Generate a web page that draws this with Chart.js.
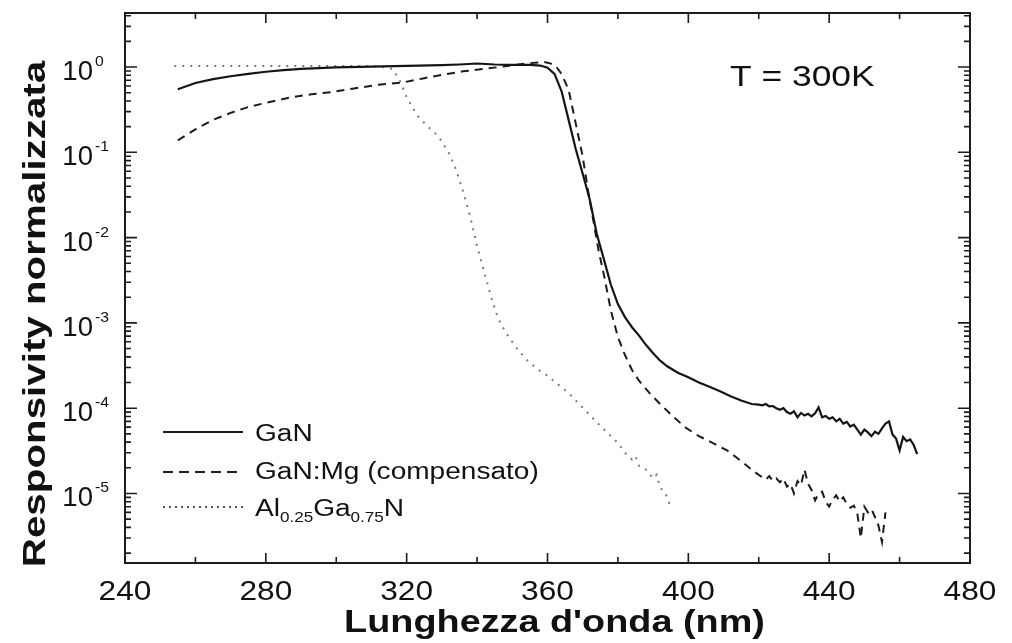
<!DOCTYPE html>
<html>
<head>
<meta charset="utf-8">
<script src="https://cdn.jsdelivr.net/npm/chart.js@4/dist/chart.umd.min.js"></script>
<style>
  html, body { margin: 0; padding: 0; background: #fff; }
  #wrap { width: 1012px; height: 643px; position: relative; }
</style>
</head>
<body>
<div id="wrap"><canvas id="responsivity-chart"></canvas></div>
<script>
// GaN (solid)
const ganWl = [255, 260, 265, 270, 275, 280, 285, 290, 295, 300, 310, 320, 330, 335, 340, 345, 350, 355, 358, 360,
    362, 364, 366, 368, 370, 372, 374, 376, 378, 380, 382, 384, 386, 388, 390, 392, 394, 397, 400, 403,
    406, 409, 412, 415, 418, 420, 421, 422, 423, 424, 425, 426, 427, 428, 429, 430, 431, 432, 433, 434,
    435, 436, 437, 438, 439, 440, 441, 442, 443, 444, 445, 446, 447, 448, 449, 450, 451, 452, 453, 454,
    455, 456, 457, 458, 459, 460, 461, 462, 463, 464, 465];
const ganVal = [0.55, 0.65, 0.72, 0.78, 0.83, 0.88, 0.92, 0.95, 0.97, 0.99, 1.01, 1.03, 1.05, 1.07, 1.10, 1.07, 1.06, 1.06, 1.04, 0.98,
    0.83, 0.52, 0.24, 0.11, 0.056, 0.028, 0.011, 0.0056, 0.0028, 1.66e-3, 1.17e-3, 8.9e-4, 7.1e-4, 5.5e-4, 4.4e-4, 3.6e-4, 3.1e-4, 2.6e-4, 2.3e-4, 2.0e-4,
    1.78e-4, 1.58e-4, 1.38e-4, 1.23e-4, 1.12e-4, 1.10e-4, 1.08e-4, 1.12e-4, 1.05e-4, 1.06e-4, 1.0e-4, 9.6e-5, 1.0e-4, 9.0e-5, 8.6e-5, 9.2e-5, 7.8e-5, 8.8e-5, 8.2e-5, 8.6e-5,
    8.0e-5, 8.7e-5, 1.02e-4, 7.8e-5, 8.1e-5, 7.5e-5, 7.8e-5, 7.0e-5, 7.5e-5, 6.6e-5, 6.9e-5, 6.1e-5, 6.4e-5, 5.6e-5, 4.9e-5, 5.6e-5, 5.2e-5, 4.7e-5, 5.3e-5, 5.0e-5,
    5.8e-5, 6.6e-5, 7.0e-5, 4.9e-5, 4.4e-5, 3.2e-5, 4.6e-5, 4.1e-5, 4.3e-5, 3.7e-5, 2.9e-5];

// GaN:Mg compensato (dashed)
const mgWl = [255, 260, 265, 270, 275, 280, 287, 293, 299, 305, 312, 319, 325, 330, 336, 342, 348, 354, 359, 362,
    364, 366, 368, 370, 371.5, 373, 374.5, 376, 378, 380, 382, 384, 386, 389, 392, 395, 399, 403, 407, 411,
    415, 418, 420, 421, 422, 423, 424, 425, 426, 427, 428, 429, 430, 431, 432, 433, 434, 435, 436, 437,
    438, 439, 440, 441, 442, 443, 444, 445, 446, 447, 448, 449, 450, 451, 452, 453, 454, 455, 456];
const mgVal = [0.138, 0.186, 0.24, 0.29, 0.34, 0.38, 0.44, 0.48, 0.51, 0.56, 0.62, 0.66, 0.74, 0.81, 0.89, 0.95, 1.02, 1.10, 1.15, 1.07,
    0.83, 0.54, 0.22, 0.089, 0.036, 0.016, 0.0071, 0.0037, 0.0014, 6.8e-4, 4.2e-4, 2.8e-4, 2.1e-4, 1.5e-4, 1.12e-4, 8.5e-5, 6.0e-5, 4.7e-5, 3.9e-5, 3.2e-5,
    2.4e-5, 1.9e-5, 1.65e-5, 1.55e-5, 1.45e-5, 1.6e-5, 1.4e-5, 1.5e-5, 1.35e-5, 1.5e-5, 1.2e-5, 1.3e-5, 1.0e-5, 1.4e-5, 1.25e-5, 1.9e-5, 1.3e-5, 1.1e-5, 8.3e-6, 1.0e-5,
    1.05e-5, 8.0e-6, 7.0e-6, 8.5e-6, 9.5e-6, 8.0e-6, 9.0e-6, 7.5e-6, 6.8e-6, 7.2e-6, 5.8e-6, 3.0e-6, 7.0e-6, 6.0e-6, 6.6e-6, 5.3e-6, 4.2e-6, 2.7e-6, 6.0e-6];

// Al0.25Ga0.75N (dotted)
const alWl = [254, 265, 275, 285, 295, 305, 312, 316, 318, 320, 323, 326, 329, 332, 334, 336, 338, 340, 342, 344,
    346, 348, 351, 354, 357, 360, 363, 366, 369, 372, 375, 378, 380, 382, 384, 385, 386, 388, 390, 391,
    392, 393.5, 395];
const alVal = [1.03, 1.03, 1.03, 1.03, 1.03, 1.03, 1.02, 0.95, 0.71, 0.44, 0.27, 0.20, 0.155, 0.098, 0.063, 0.035, 0.018, 7.9e-3, 4.0e-3, 2.0e-3,
    1.12e-3, 7.9e-4, 5.2e-4, 3.7e-4, 2.9e-4, 2.4e-4, 1.9e-4, 1.5e-4, 1.12e-4, 8.3e-5, 6.2e-5, 4.7e-5, 3.9e-5, 3.0e-5, 2.5e-5, 2.75e-5, 2.1e-5, 1.9e-5, 1.5e-5, 1.66e-5,
    1.17e-5, 1.0e-5, 6.9e-6];

const xTicks = [240, 280, 320, 360, 400, 440, 480];
const yExponents = [0, -1, -2, -3, -4, -5];

const toPoints = (wl, val) => wl.map((x, i) => ({ x: x, y: val[i] }));

// the scanned figure is wider than Arial, so text gets a horizontal stretch
const drawText = (ctx, text, x, y, font, align, stretch) => {
    ctx.save();
    ctx.font = font;
    ctx.textAlign = align;
    ctx.textBaseline = 'alphabetic';
    ctx.translate(x, y);
    ctx.scale(stretch, 1);
    ctx.fillText(text, 0, 0);
    ctx.restore();
};

const framePlugin = {
    id: 'frame',
    afterDatasetsDraw(chart) {
        const ctx = chart.ctx;
        const a = chart.chartArea;
        const xs = chart.scales.x;
        const ys = chart.scales.y;
        ctx.save();
        ctx.strokeStyle = '#1c1c1c';
        ctx.fillStyle = '#111';
        ctx.lineWidth = 2;
        ctx.setLineDash([]);
        ctx.strokeRect(a.left, a.top, a.right - a.left, a.bottom - a.top);

        // x ticks, inward, top and bottom
        ctx.lineWidth = 1.6;
        for (let v = 240; v <= 480; v += 20) {
            let px = xs.getPixelForValue(v);
            let len = (v % 40 === 0) ? 10 : 6;
            ctx.beginPath();
            ctx.moveTo(px, a.bottom); ctx.lineTo(px, a.bottom - len);
            ctx.moveTo(px, a.top); ctx.lineTo(px, a.top + len);
            ctx.stroke();
        }
        // y ticks, decades + minor, both sides
        for (let e = -6; e <= 0; e++) {
            for (let m = 1; m <= 9; m++) {
                let v = m * Math.pow(10, e);
                if (v < ys.min || v > ys.max) continue;
                let py = ys.getPixelForValue(v);
                let len = m === 1 ? 12 : 6;
                ctx.beginPath();
                ctx.moveTo(a.left, py); ctx.lineTo(a.left + len, py);
                ctx.moveTo(a.right, py); ctx.lineTo(a.right - len, py);
                ctx.stroke();
            }
        }

        // x tick labels
        for (let v of xTicks) {
            drawText(ctx, String(v), xs.getPixelForValue(v), 600, '28px "Liberation Sans", Arial, sans-serif', 'center', 1.13);
        }
        // y tick labels 10^n
        for (let e of yExponents) {
            let py = ys.getPixelForValue(Math.pow(10, e));
            drawText(ctx, '10', 93, py + 13, '27px "Liberation Sans", Arial, sans-serif', 'right', 1.02);
            drawText(ctx, String(e), 95, py - 1, '15px "Liberation Sans", Arial, sans-serif', 'left', 1.05);
        }

        // axis titles
        drawText(ctx, "Lunghezza d'onda (nm)", (a.left + a.right) / 2 + 7, 632, 'bold 31px "Liberation Sans", Arial, sans-serif', 'center', 1.22);
        ctx.save();
        ctx.translate(45, 314);
        ctx.rotate(-Math.PI / 2);
        ctx.font = 'bold 32px "Liberation Sans", Arial, sans-serif';
        ctx.textAlign = 'center';
        ctx.scale(1.26, 1);
        ctx.fillText('Responsivity normalizzata', 0, 0);
        ctx.restore();

        // annotation
        drawText(ctx, 'T = 300K', 730, 86, '30px "Liberation Sans", Arial, sans-serif', 'left', 1.18);

        // legend
        const legFont = '23px "Liberation Sans", Arial, sans-serif';
        const subFont = '14px "Liberation Sans", Arial, sans-serif';
        ctx.lineWidth = 2;
        ctx.strokeStyle = '#1c1c1c';
        ctx.beginPath(); ctx.moveTo(163, 432); ctx.lineTo(243, 432); ctx.stroke();
        ctx.setLineDash([10, 6]);
        ctx.beginPath(); ctx.moveTo(163, 472); ctx.lineTo(243, 472); ctx.stroke();
        ctx.setLineDash([2, 4]);
        ctx.strokeStyle = '#555';
        ctx.beginPath(); ctx.moveTo(163, 507); ctx.lineTo(243, 507); ctx.stroke();
        ctx.setLineDash([]);

        drawText(ctx, 'GaN', 255, 441, legFont, 'left', 1.22);
        drawText(ctx, 'GaN:Mg (compensato)', 255, 479, legFont, 'left', 1.22);
        let parts = [['Al', legFont, 0], ['0.25', subFont, 6], ['Ga', legFont, 0], ['0.75', subFont, 6], ['N', legFont, 0]];
        let cx = 255;
        for (let p of parts) {
            ctx.font = p[1];
            let w = ctx.measureText(p[0]).width * 1.22;
            drawText(ctx, p[0], cx, 516 + p[2], p[1], 'left', 1.22);
            cx += w;
        }
        ctx.restore();
    }
};

const createResponsivityChart = () => {
    let ctx = document.getElementById('responsivity-chart');

    new Chart(ctx, {
        type: 'line',
        data: {
            datasets: [{
                label: 'GaN',
                data: toPoints(ganWl, ganVal),
                borderColor: '#151515',
                borderWidth: 2.2,
                pointRadius: 0,
                tension: 0,
                fill: false,
            }, {
                label: 'GaN:Mg (compensato)',
                data: toPoints(mgWl, mgVal),
                borderColor: '#1c1c1c',
                borderWidth: 2,
                borderDash: [8, 6],
                pointRadius: 0,
                tension: 0,
                fill: false,
            }, {
                label: 'Al0.25Ga0.75N',
                data: toPoints(alWl, alVal),
                borderColor: '#7a7a7a',
                borderWidth: 2,
                borderDash: [2, 6],
                pointRadius: 0,
                tension: 0,
                fill: false,
            }]
        },
        options: {
            responsive: true,
            maintainAspectRatio: false,
            animation: false,
            layout: {
                padding: { left: 125, right: 42, top: 13, bottom: 80 }
            },
            plugins: {
                legend: { display: false },
                tooltip: { enabled: false },
            },
            scales: {
                x: {
                    type: 'linear',
                    min: 240,
                    max: 480,
                    display: false,
                },
                y: {
                    type: 'logarithmic',
                    min: 1.53e-6,
                    max: 4.3,
                    display: false,
                },
            },
        },
        plugins: [framePlugin]
    });
};

document.addEventListener('DOMContentLoaded', () => {
    createResponsivityChart();
});
</script>
</body>
</html>
